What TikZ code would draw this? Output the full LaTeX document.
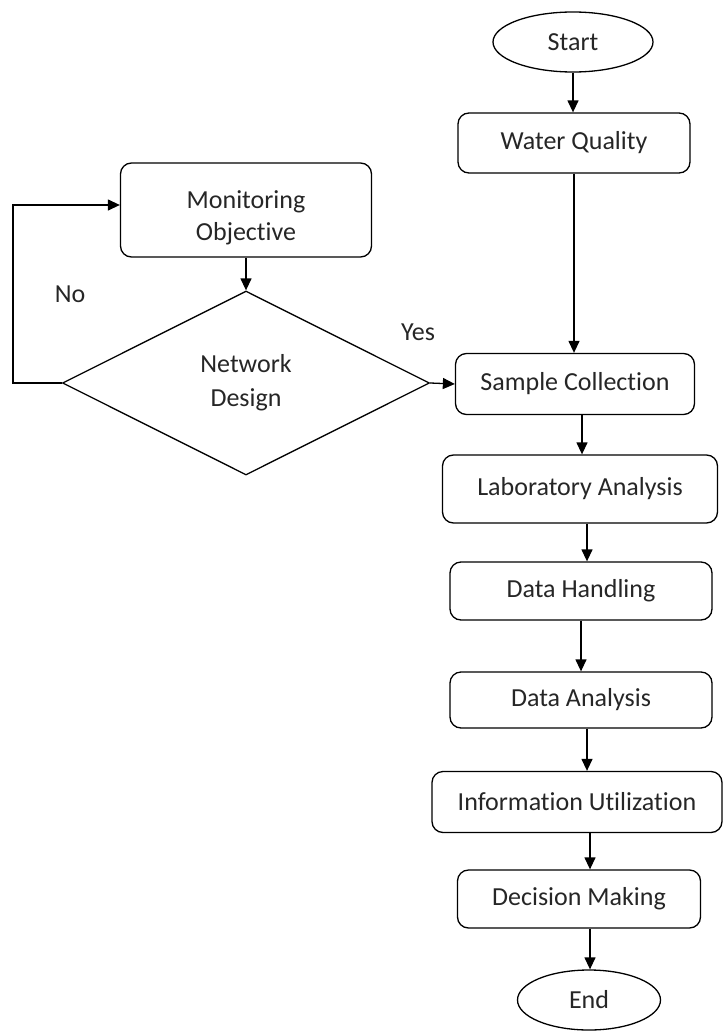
\documentclass[tikz,border=0pt]{standalone}
\usepackage{fontspec}
\setmainfont{Carlito}[Ligatures={NoCommon}]
\usetikzlibrary{shapes.geometric,arrows.meta}
\begin{document}
\begin{tikzpicture}[x=1pt,y=-1pt,
  every node/.style={font=\fontsize{26}{34}\selectfont, text=black!85},
  proc/.style={draw, line width=1.3pt, rounded corners=11pt, inner sep=0pt, align=center},
  term/.style={draw, ellipse, line width=1.3pt, inner sep=0pt},
  dec/.style={draw, diamond, line width=1.3pt, inner sep=0pt, align=center},
  arr/.style={line width=1.3pt, -{Triangle[width=11pt,length=12pt]}},
  lbl/.style={inner sep=0pt}]
\useasboundingbox (0,0) rectangle (723,1033);
\node[term, minimum width=160pt, minimum height=60pt] (st) at (573,42) {Start};
\node[proc, minimum width=232pt, minimum height=60pt] (wq) at (574,143) {Water Quality};
\node[proc, minimum width=239pt, minimum height=61pt] (sc) at (575,384) {Sample Collection};
\node[proc, minimum width=275pt, minimum height=68pt] (la) at (580,489) {Laboratory Analysis};
\node[proc, minimum width=262pt, minimum height=58pt] (dh) at (581,591) {Data Handling};
\node[proc, minimum width=262pt, minimum height=56pt] (da) at (581,700) {Data Analysis};
\node[proc, minimum width=290pt, minimum height=61pt] (iu) at (577,802) {Information Utilization};
\node[proc, minimum width=243pt, minimum height=58pt] (dm) at (579,899) {Decision Making};
\node[term, minimum width=143pt, minimum height=60pt] (en) at (589,1000) {End};
\node[proc, minimum width=251pt, minimum height=94pt, text depth=0pt] (mo) at (246,210) {\raisebox{11pt}{\begin{tabular}{@{}c@{}}Monitoring\\[-2pt]Objective\end{tabular}}};
\node[dec, minimum width=367pt, minimum height=184pt] (nd) at (246,383) {Network\\Design};
\node[lbl] (no) at (70,294) {No};
\node[lbl] (yes) at (418,332) {Yes};
\coordinate (lp) at (13,383);
\draw[arr] (st.south) -- (st.south |- wq.north);
\draw[arr] (wq.south) -- (wq.south |- sc.north);
\draw[arr] ([xshift=7pt]sc.south) -- ([xshift=7pt]sc.south |- la.north);
\draw[arr] ([xshift=7pt]la.south) -- ([xshift=7pt]la.south |- dh.north);
\draw[arr] (dh.south) -- (dh.south |- da.north);
\draw[arr] ([xshift=6pt]da.south) -- ([xshift=6pt]da.south |- iu.north);
\draw[arr] ([xshift=13pt]iu.south) -- ([xshift=13pt]iu.south |- dm.north);
\draw[arr] ([xshift=11pt]dm.south) -- ([xshift=11pt]dm.south |- en.north);
\draw[arr] (mo.south) -- (nd.north);
\draw[arr] (nd.east) -- (sc.west);
\draw[arr] (nd.west) -- (lp) |- ([yshift=5pt]mo.west);
\end{tikzpicture}
\end{document}
